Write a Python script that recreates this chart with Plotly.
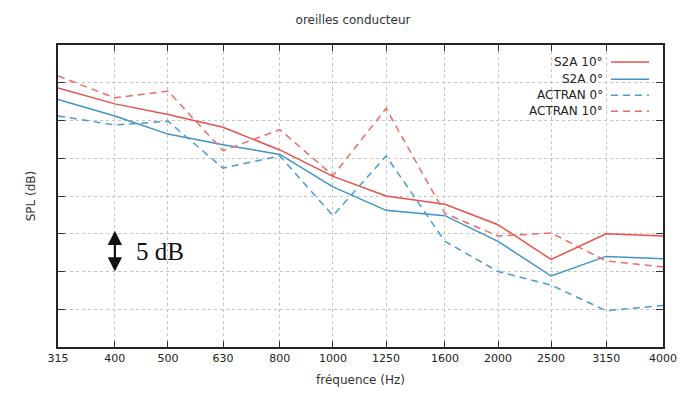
import math
import plotly.graph_objects as go

freqs = [315, 400, 500, 630, 800, 1000, 1250, 1600, 2000, 2500, 3150, 4000]
tick_labels = [str(f) for f in freqs]

s2a_10 = [34.3, 32.2, 30.8, 29.1, 26.1, 22.6, 20.0, 18.9, 16.2, 11.6, 15.0, 14.7]
s2a_0 = [32.8, 30.6, 28.2, 26.8, 25.5, 21.2, 18.1, 17.4, 14.0, 9.4, 12.0, 11.7]
actran_0 = [30.6, 29.4, 29.9, 23.7, 25.3, 17.4, 25.3, 14.0, 10.0, 8.2, 4.8, 5.5]
actran_10 = [35.9, 33.0, 33.9, 26.0, 28.8, 22.7, 31.6, 17.7, 14.7, 15.1, 11.4, 10.6]

RED = "#e8504b"
BLUE = "#3f93c9"
RED_D = "#ee6a64"
BLUE_D = "#4a9bd0"

series = [
    ("S2A 10°", s2a_10, RED, "solid"),
    ("S2A 0°", s2a_0, BLUE, "solid"),
    ("ACTRAN 0°", actran_0, BLUE_D, "7px,5px"),
    ("ACTRAN 10°", actran_10, RED_D, "7px,5px"),
]

fig = go.Figure()
for name, vals, col, dash in series:
    fig.add_trace(go.Scatter(x=freqs, y=vals, mode="lines", name=name,
                             line=dict(color=col, width=1.5, dash=dash),
                             showlegend=False))

# white legend background (hides grid behind the key)
fig.add_shape(type="rect", xref="paper", yref="paper", x0=0.777, x1=0.998,
              y0=0.755, y1=0.998, fillcolor="white", line=dict(width=0),
              layer="between")

# manual legend (text left of line sample, like gnuplot)
leg_y = [0.944, 0.887, 0.834, 0.781]
for (name, vals, col, dash), yy in zip(series, leg_y):
    fig.add_annotation(xref="paper", yref="paper", x=0.904, y=yy, text=name,
                       showarrow=False, xanchor="right", yanchor="middle",
                       font=dict(family="DejaVu Sans", size=12, color="#222"))
    fig.add_shape(type="line", xref="paper", yref="paper", x0=0.914, x1=0.977,
                  y0=yy, y1=yy, line=dict(color=col, width=1.5, dash=dash))

# 5 dB scale arrow
fig.add_annotation(x=math.log10(400), y=10.0, ax=math.log10(400), ay=15.6,
                   xref="x", yref="y", axref="x", ayref="y", text="",
                   showarrow=True, arrowhead=2, arrowside="end+start",
                   arrowsize=1.3, arrowwidth=2.2, arrowcolor="#111")
fig.add_annotation(x=2.637, y=12.7, xref="x", yref="y", text="5 dB",
                   showarrow=False, xanchor="left", yanchor="middle",
                   font=dict(family="Liberation Serif", size=25, color="#111"))

fig.update_layout(
    width=690, height=394,
    margin=dict(l=50, r=35, t=37, b=55),
    paper_bgcolor="white", plot_bgcolor="white",
    title=dict(text="oreilles conducteur", x=0.5, xanchor="center", y=0.97,
               yanchor="middle", font=dict(family="DejaVu Sans", size=12, color="#333")),
    font=dict(family="DejaVu Sans", size=11, color="#222"),
)
fig.update_xaxes(type="log", range=[math.log10(315), math.log10(4000)],
                 tickvals=freqs, ticktext=tick_labels,
                 ticks="inside", ticklen=6, tickcolor="#333", mirror="ticks",
                 showline=True, linecolor="#222", linewidth=1.5,
                 showgrid=True, gridcolor="#c4c4c4", griddash="dot", gridwidth=1,
                 title=dict(text="fréquence (Hz)", standoff=12,
                            font=dict(family="DejaVu Sans", size=12, color="#333")),
                 tickfont=dict(family="DejaVu Sans", size=11, color="#222"),
                 zeroline=False)
fig.update_yaxes(range=[0, 40], tickvals=[5, 10, 15, 20, 25, 30, 35],
                 showticklabels=False,
                 ticks="inside", ticklen=7, tickcolor="#333", mirror="ticks",
                 showline=True, linecolor="#222", linewidth=1.5,
                 showgrid=True, gridcolor="#c4c4c4", griddash="dot", gridwidth=1,
                 title=dict(text="SPL (dB)", standoff=18,
                            font=dict(family="DejaVu Sans", size=12, color="#333")),
                 zeroline=False)

fig.write_html("out.html")
